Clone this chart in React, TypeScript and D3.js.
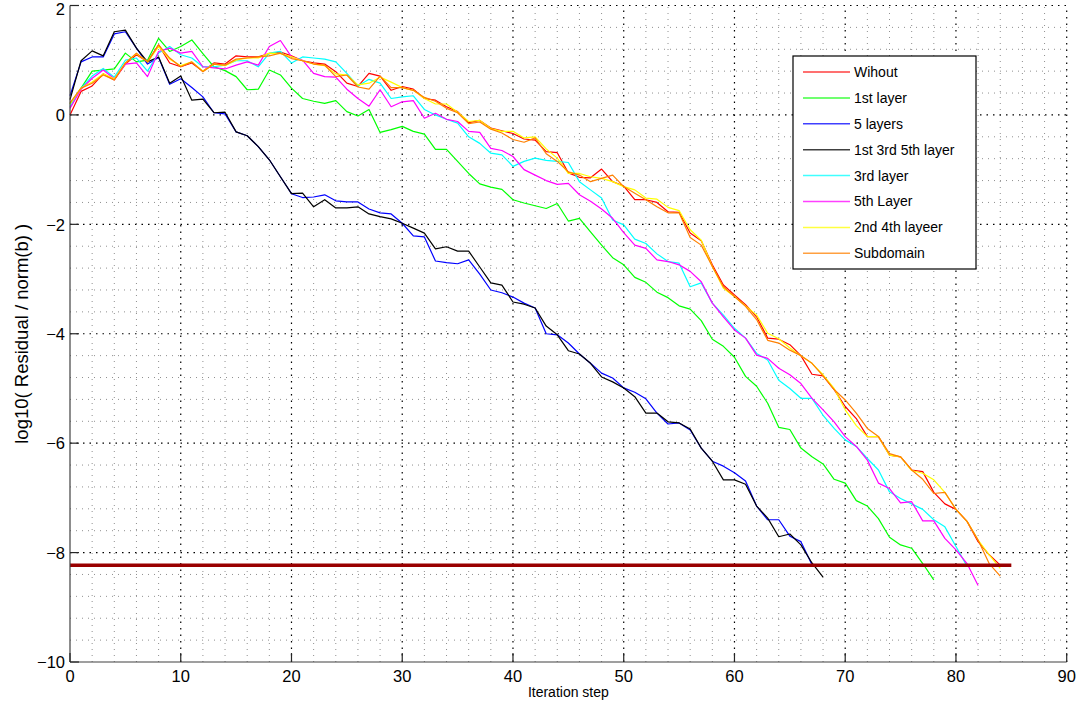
import React from "react";
import * as d3 from "d3";

// residual history per preconditioner, one value per iteration step (0, 1, 2, ...)
const wihout = [0.0, 0.43, 0.53, 0.75, 0.64, 0.93, 1.1, 0.97, 1.28, 0.95, 0.88, 0.95, 0.8, 0.95, 0.93, 1.08, 1.06, 1.06, 1.12, 1.15, 1.08, 0.99, 0.95, 0.93, 0.79, 0.58, 0.52, 0.76, 0.71, 0.45, 0.52, 0.47, 0.3, 0.27, 0.15, 0.06, -0.14, -0.1, -0.24, -0.29, -0.34, -0.44, -0.46, -0.67, -0.69, -1.06, -1.14, -1.15, -0.99, -1.22, -1.3, -1.55, -1.55, -1.6, -1.77, -1.78, -2.16, -2.3, -2.74, -3.11, -3.29, -3.47, -3.69, -4.08, -4.1, -4.2, -4.4, -4.74, -4.77, -5.02, -5.33, -5.55, -5.88, -5.88, -6.22, -6.25, -6.49, -6.52, -6.9, -7.11, -7.21, -7.43, -7.8, -8.04, -8.23];
const firstLayer = [0.2, 0.49, 0.8, 0.82, 0.84, 1.13, 0.97, 1.0, 1.4, 1.16, 1.25, 1.37, 1.12, 0.88, 0.81, 0.7, 0.46, 0.47, 0.82, 0.73, 0.49, 0.3, 0.25, 0.21, 0.26, 0.06, -0.02, 0.1, -0.32, -0.27, -0.21, -0.3, -0.35, -0.63, -0.63, -0.85, -1.07, -1.26, -1.32, -1.36, -1.55, -1.61, -1.66, -1.71, -1.62, -1.94, -1.89, -2.14, -2.38, -2.61, -2.74, -2.97, -3.06, -3.24, -3.34, -3.49, -3.55, -3.76, -4.1, -4.23, -4.43, -4.78, -4.96, -5.27, -5.71, -5.75, -6.09, -6.25, -6.38, -6.66, -6.73, -7.05, -7.15, -7.38, -7.72, -7.86, -7.92, -8.2, -8.5];
const fiveLayers = [0.35, 0.97, 1.06, 1.06, 1.48, 1.52, 1.22, 0.93, 1.05, 0.56, 0.66, 0.5, 0.33, 0.04, 0.02, -0.31, -0.38, -0.58, -0.82, -1.13, -1.44, -1.51, -1.5, -1.46, -1.57, -1.59, -1.59, -1.72, -1.79, -1.81, -1.98, -2.21, -2.23, -2.67, -2.7, -2.72, -2.65, -2.91, -3.2, -3.25, -3.33, -3.44, -3.53, -4.0, -4.02, -4.17, -4.37, -4.54, -4.72, -4.81, -4.99, -5.07, -5.19, -5.45, -5.65, -5.63, -5.76, -6.09, -6.33, -6.42, -6.54, -6.69, -7.15, -7.4, -7.4, -7.7, -7.8, -8.22];
const layers135 = [0.28, 0.99, 1.17, 1.08, 1.52, 1.55, 1.22, 0.97, 1.06, 0.58, 0.71, 0.27, 0.29, 0.04, 0.05, -0.31, -0.38, -0.58, -0.82, -1.13, -1.44, -1.43, -1.68, -1.55, -1.7, -1.7, -1.68, -1.81, -1.86, -1.9, -1.98, -2.07, -2.16, -2.45, -2.41, -2.49, -2.49, -2.78, -3.07, -3.11, -3.42, -3.46, -3.53, -3.86, -4.02, -4.31, -4.37, -4.54, -4.79, -4.88, -4.99, -5.15, -5.45, -5.45, -5.61, -5.63, -5.74, -6.09, -6.33, -6.67, -6.67, -6.75, -7.15, -7.37, -7.71, -7.66, -7.86, -8.19, -8.45];
const thirdLayer = [0.15, 0.49, 0.71, 0.85, 0.69, 1.0, 1.04, 0.8, 1.13, 1.25, 1.1, 1.04, 0.88, 0.88, 0.91, 0.99, 0.99, 0.88, 1.13, 1.16, 0.95, 1.06, 1.04, 1.02, 0.97, 0.76, 0.53, 0.65, 0.58, 0.3, 0.33, 0.35, 0.1, 0.0, -0.08, -0.15, -0.4, -0.52, -0.7, -0.73, -0.94, -0.85, -0.79, -0.83, -0.85, -0.87, -1.22, -1.37, -1.52, -1.92, -2.01, -2.27, -2.35, -2.54, -2.68, -2.71, -3.14, -3.07, -3.44, -3.66, -3.9, -4.08, -4.36, -4.48, -4.85, -5.0, -5.18, -5.18, -5.49, -5.73, -5.94, -6.06, -6.28, -6.49, -6.89, -7.01, -7.11, -7.21, -7.4, -7.53, -7.89, -8.25];
const fifthLayer = [0.12, 0.47, 0.67, 0.82, 0.66, 0.93, 0.95, 0.7, 1.16, 1.22, 1.13, 1.16, 0.88, 0.86, 0.84, 0.91, 0.97, 0.91, 1.25, 1.36, 1.06, 1.0, 0.76, 0.7, 0.69, 0.47, 0.3, 0.16, 0.46, 0.15, 0.24, 0.26, -0.06, 0.03, -0.08, -0.12, -0.3, -0.32, -0.61, -0.65, -0.76, -1.0, -1.1, -1.2, -1.27, -1.25, -1.46, -1.58, -1.72, -1.89, -2.15, -2.38, -2.44, -2.65, -2.68, -2.74, -2.86, -3.05, -3.44, -3.69, -3.93, -4.08, -4.39, -4.45, -4.63, -4.75, -4.91, -5.18, -5.39, -5.61, -5.88, -6.06, -6.31, -6.73, -6.83, -7.09, -7.07, -7.42, -7.42, -7.74, -7.95, -8.2, -8.6];
const layers24 = [0.2, 0.49, 0.6, 0.75, 0.66, 0.95, 1.12, 0.97, 1.25, 1.02, 0.9, 0.97, 0.8, 0.93, 0.9, 1.0, 1.04, 1.04, 1.13, 1.12, 1.06, 0.99, 0.93, 0.9, 0.75, 0.73, 0.55, 0.58, 0.69, 0.6, 0.5, 0.45, 0.3, 0.2, 0.2, 0.05, -0.12, -0.1, -0.25, -0.3, -0.3, -0.42, -0.4, -0.62, -0.79, -1.07, -1.07, -1.13, -1.16, -1.22, -1.31, -1.37, -1.52, -1.54, -1.69, -1.75, -2.1, -2.29, -2.77, -3.17, -3.32, -3.49, -3.66, -3.99, -4.09, -4.26, -4.4, -4.54, -4.75, -5.0, -5.39, -5.68, -5.88, -5.88, -6.22, -6.25, -6.5, -6.55, -6.67, -6.9, -7.21, -7.43, -7.77, -8.04, -8.29];
const subdomain = [0.22, 0.49, 0.58, 0.73, 0.64, 0.95, 1.13, 0.97, 1.28, 1.04, 0.88, 0.97, 0.79, 0.93, 0.91, 1.02, 1.04, 1.06, 1.08, 1.13, 1.03, 0.99, 0.93, 0.91, 0.7, 0.73, 0.51, 0.47, 0.71, 0.5, 0.5, 0.45, 0.32, 0.25, 0.12, 0.04, -0.16, -0.13, -0.26, -0.33, -0.45, -0.5, -0.42, -0.71, -0.85, -1.04, -1.1, -1.22, -1.16, -1.1, -1.31, -1.43, -1.55, -1.68, -1.79, -1.79, -2.24, -2.38, -2.77, -3.14, -3.32, -3.5, -3.74, -4.12, -4.17, -4.3, -4.4, -4.54, -4.77, -5.02, -5.21, -5.45, -5.73, -5.88, -6.19, -6.25, -6.49, -6.66, -6.92, -6.9, -7.21, -7.43, -7.77, -8.2, -8.43];

const seriesNames = ["Wihout", "1st layer", "5 layers", "1st 3rd 5th layer", "3rd layer", "5th Layer", "2nd 4th layeer", "Subdomain"];
const seriesValues = [wihout, firstLayer, fiveLayers, layers135, thirdLayer, fifthLayer, layers24, subdomain];
const seriesColors = ["#ff0000", "#00ff00", "#0000ff", "#000000", "#00ffff", "#ff00ff", "#ffff00", "#ff8000"];

const xTicks = [0, 10, 20, 30, 40, 50, 60, 70, 80, 90];
const yTicks = [2, 0, -2, -4, -6, -8, -10];
const tolerance = -8.23; // horizontal threshold line
const toleranceEnd = 85;

const font = "'Liberation Sans', Arial, Helvetica, sans-serif";

const App = () => {
  const width = 1079;
  const height = 706;
  const left = 70;
  const right = 1066.7;
  const top = 5.5;
  const bottom = 662;

  const x = d3.scaleLinear().domain([0, 90]).range([left, right]);
  const y = d3.scaleLinear().domain([-10, 2]).range([bottom, top]);

  // minor grid every 2 in x, every 0.4 in y
  const xMinor = d3.range(0, 91, 2).filter((v) => v % 10 !== 0);
  const yMinor = d3.range(-10, 2.01, 0.4).map((v) => Math.round(v * 10) / 10).filter((v) => Math.abs(v % 2) > 0.01);

  const line = d3
    .line<number>()
    .x((_, i) => x(i))
    .y((d) => y(d));

  const fmt = (t: number) => (t < 0 ? "\u2212" + Math.abs(t) : String(t));

  const legendX = 793;
  const legendY = 56;
  const legendW = 183;
  const legendH = 213;
  const rowH = 25.9;

  return (
    <svg width={width} height={height} style={{ position: "absolute", left: 0, top: 0, background: "#fff" }}>
      <rect x={0} y={0} width={width} height={height} fill="#fff" />

      {/* minor grid */}
      {xMinor.map((v) => (
        <line key={"xm" + v} x1={x(v)} x2={x(v)} y1={bottom} y2={top} stroke="#8f8f8f" strokeWidth={1} strokeDasharray="1,5" />
      ))}
      {yMinor.map((v) => (
        <line key={"ym" + v} x1={left} x2={right} y1={y(v)} y2={y(v)} stroke="#8f8f8f" strokeWidth={1} strokeDasharray="1,5" />
      ))}

      {/* major grid */}
      {xTicks.slice(1).map((v) => (
        <line key={"xg" + v} x1={x(v)} x2={x(v)} y1={bottom} y2={top} stroke="#000" strokeWidth={1.2} strokeDasharray="1.5,5" />
      ))}
      {yTicks.slice(0, -1).map((v) => (
        <line key={"yg" + v} x1={left} x2={right} y1={y(v)} y2={y(v)} stroke="#000" strokeWidth={1.2} strokeDasharray="1.5,5" />
      ))}

      {/* series */}
      {seriesValues.map((vals, i) => (
        <path key={seriesNames[i]} d={line(vals) ?? ""} fill="none" stroke={seriesColors[i]} strokeWidth={1.2} strokeLinejoin="round" />
      ))}

      {/* threshold */}
      <line x1={x(0)} x2={x(toleranceEnd)} y1={y(tolerance)} y2={y(tolerance)} stroke="#990000" strokeWidth={3.5} />

      {/* axes */}
      <line x1={left} x2={right} y1={bottom} y2={bottom} stroke="#404040" strokeWidth={1.2} />
      <line x1={left} x2={left} y1={bottom} y2={top} stroke="#404040" strokeWidth={1.2} />
      {xTicks.map((t) => (
        <g key={"xt" + t}>
          <line x1={x(t)} x2={x(t)} y1={bottom} y2={bottom - 9} stroke="#262626" strokeWidth={1.2} />
          <text x={x(t)} y={bottom + 20} textAnchor="middle" fontSize={16.5} fontFamily={font} fill="#000">
            {t}
          </text>
        </g>
      ))}
      {yTicks.map((t) => (
        <g key={"yt" + t}>
          <line x1={left} x2={left + 9} y1={y(t)} y2={y(t)} stroke="#262626" strokeWidth={1.2} />
          <text x={left - 5} y={Math.max(y(t), 8.5)} dy="0.38em" textAnchor="end" fontSize={16.5} fontFamily={font} fill="#000">
            {fmt(t)}
          </text>
        </g>
      ))}

      {/* axis labels */}
      <text x={(left + right) / 2} y={697} textAnchor="middle" fontSize={14} fontFamily={font} fill="#000">
        Iteration step
      </text>
      <text
        transform={`translate(28, ${(top + bottom) / 2}) rotate(-90)`}
        textAnchor="middle"
        fontSize={18.5}
        fontFamily={font}
        fill="#000"
      >
        log10( Residual / norm(b) )
      </text>

      {/* legend */}
      <rect x={legendX} y={legendY} width={legendW} height={legendH} fill="#fff" stroke="#000" strokeWidth={1.2} />
      {seriesNames.map((name, i) => {
        const ly = legendY + 16 + i * rowH;
        return (
          <g key={"lg" + name}>
            <line x1={legendX + 10} x2={legendX + 57} y1={ly} y2={ly} stroke={seriesColors[i]} strokeWidth={1.5} strokeOpacity={0.75} />
            <text x={legendX + 61} y={ly} dy="0.35em" fontSize={14} fontFamily={font} fill="#000">
              {name}
            </text>
          </g>
        );
      })}
    </svg>
  );
};

export default App;
